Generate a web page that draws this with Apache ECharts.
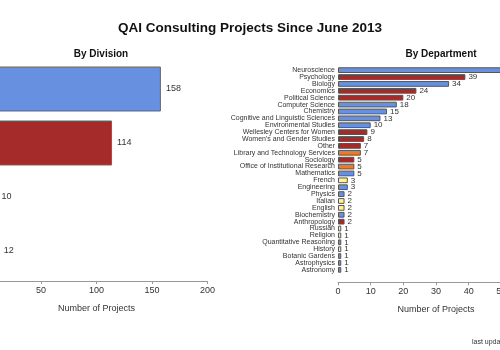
<!DOCTYPE html>
<html>
<head>
<meta charset="utf-8">
<script src="https://cdn.jsdelivr.net/npm/echarts@6/dist/echarts.min.js"></script>
<style>
  html, body { margin: 0; padding: 0; background: #fff; }
  #chart { width: 500px; height: 350px; }
</style>
</head>
<body>
<div id="chart"></div>
<script>
// division totals (labels are outside the visible area in the original)
var divisions = ['Sciences', 'Social Sciences', 'Humanities', 'Administrative'];
var divisionCounts = [158, 114, 10, 12];
var divisionGroups = ['sci', 'soc', 'hum', 'adm'];

var departments = [
    'Neuroscience', 'Psychology', 'Biology', 'Economics', 'Political Science',
    'Computer Science', 'Chemistry', 'Cognitive and Linguistic Sciences',
    'Environmental Studies', 'Wellesley Centers for Women', "Women's and Gender Studies",
    'Other', 'Library and Technology Services', 'Sociology',
    'Office of Institutional Research', 'Mathematics', 'French', 'Engineering',
    'Physics', 'Italian', 'English', 'Biochemistry', 'Anthropology', 'Russian',
    'Religion', 'Quantitative Reasoning', 'History', 'Botanic Gardens',
    'Astrophysics', 'Astronomy'
];
var departmentCounts = [
    52, 39, 34, 24, 20, 18, 15, 13, 10, 9, 8, 7, 7, 5, 5, 5, 3, 3,
    2, 2, 2, 2, 2, 1, 1, 1, 1, 1, 1, 1
];
var departmentGroups = [
    'sci', 'soc', 'sci', 'soc', 'soc', 'sci', 'sci', 'sci', 'sci', 'soc', 'soc',
    'soc', 'adm', 'soc', 'adm', 'sci', 'hum', 'sci', 'sci', 'hum', 'hum', 'sci',
    'soc', 'hum', 'hum', 'sci', 'hum', 'sci', 'sci', 'sci'
];

var groupColors = { sci: '#6890e0', soc: '#a52a2a', hum: '#fff38c', adm: '#ee7a28' };
var font = 'Liberation Sans, Arial, sans-serif';

function barData(values, groups) {
    return values.map(function (v, i) {
        return { value: v, itemStyle: { color: groupColors[groups[i]] } };
    });
}

var chart = echarts.init(document.getElementById('chart'));
chart.setOption({
    animation: false,
    textStyle: { fontFamily: font },
    title: [
        { text: 'QAI Consulting Projects Since June 2013', left: 'center', top: 16,
          textStyle: { fontSize: 13.5, fontWeight: 'bold', color: '#111', fontFamily: font } },
        { text: 'By Division', left: 96, top: 44, textAlign: 'center',
          textStyle: { fontSize: 10, fontWeight: 'bold', color: '#111', fontFamily: font } },
        { text: 'By Department', left: 436, top: 44, textAlign: 'center',
          textStyle: { fontSize: 10, fontWeight: 'bold', color: '#111', fontFamily: font } }
    ],
    graphic: [{
        type: 'text', left: 472, top: 339,
        style: { text: 'last updated', fontSize: 7, fill: '#333', fontFamily: font }
    }],
    grid: [
        { left: -14.5, top: 62, width: 222, height: 216, outerBoundsMode: 'none', containLabel: false },
        { left: 338, top: 66.7, width: 196, height: 206.6, outerBoundsMode: 'none', containLabel: false }
    ],
    xAxis: [{
        gridIndex: 0, type: 'value', min: 0, max: 200, interval: 50, offset: 3,
        name: 'Number of Projects', nameLocation: 'middle', nameGap: 23,
        nameTextStyle: { fontSize: 9, color: '#333' },
        axisLine: { show: true, lineStyle: { color: '#999' } },
        axisTick: { show: true, length: 3, lineStyle: { color: '#999' } },
        axisLabel: { fontSize: 9, color: '#333', margin: 5 },
        splitLine: { show: false }
    }, {
        gridIndex: 1, type: 'value', min: 0, max: 60, interval: 10, offset: 9,
        name: 'Number of Projects', nameLocation: 'middle', nameGap: 23,
        nameTextStyle: { fontSize: 9, color: '#333' },
        axisLine: { show: true, lineStyle: { color: '#999' } },
        axisTick: { show: true, length: 3, lineStyle: { color: '#999' } },
        axisLabel: { fontSize: 9, color: '#333', margin: 5 },
        splitLine: { show: false }
    }],
    yAxis: [{
        gridIndex: 0, type: 'category', data: divisions, inverse: true,
        axisLine: { show: false }, axisTick: { show: false }, axisLabel: { show: false }
    }, {
        gridIndex: 1, type: 'category', data: departments, inverse: true,
        axisLine: { show: false }, axisTick: { show: false },
        axisLabel: { fontSize: 7, color: '#333', margin: 3, interval: 0 }
    }],
    series: [{
        type: 'bar', xAxisIndex: 0, yAxisIndex: 0,
        data: barData(divisionCounts, divisionGroups),
        barCategoryGap: '16.7%',
        itemStyle: { borderColor: '#666', borderWidth: 1 },
        label: { show: true, position: 'right', distance: 5, fontSize: 9, color: '#333' }
    }, {
        type: 'bar', xAxisIndex: 1, yAxisIndex: 1,
        data: barData(departmentCounts, departmentGroups),
        barCategoryGap: '16.7%',
        itemStyle: { borderColor: '#555', borderWidth: 1 },
        label: { show: true, position: 'right', distance: 3, fontSize: 8, color: '#333' }
    }]
});
</script>
</body>
</html>
